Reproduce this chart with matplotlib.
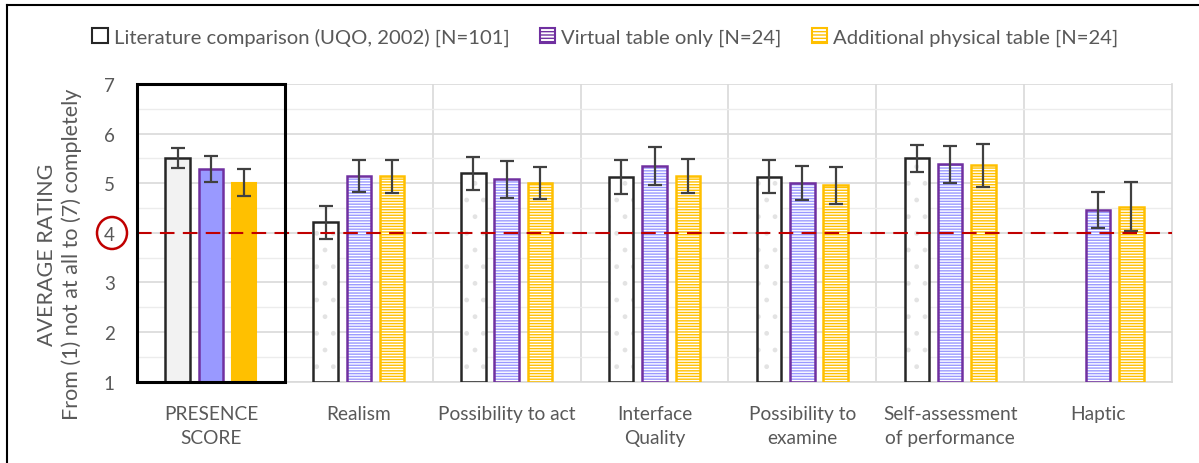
import matplotlib
matplotlib.use("Agg")
import matplotlib.pyplot as plt
import numpy as np
from matplotlib.patches import Rectangle, Patch, Ellipse
from matplotlib.lines import Line2D

categories = ["PRESENCE\nSCORE", "Realism", "Possibility to act", "Interface\nQuality",
              "Possibility to\nexamine", "Self-assessment\nof performance", "Haptic"]
series_names = ["Literature comparison (UQO, 2002) [N=101]",
                "Virtual table only [N=24]",
                "Additional physical table [N=24]"]
lit_mean = [5.51, 4.21, 5.20, 5.13, 5.13, 5.50, np.nan]
lit_err = [0.20, 0.34, 0.33, 0.34, 0.33, 0.28, np.nan]
virt_mean = [5.29, 5.14, 5.08, 5.35, 5.01, 5.38, 4.46]
virt_err = [0.26, 0.32, 0.37, 0.39, 0.34, 0.38, 0.36]
phys_mean = [5.01, 5.14, 5.00, 5.15, 4.96, 5.36, 4.53]
phys_err = [0.27, 0.33, 0.32, 0.34, 0.37, 0.43, 0.50]
yticks = [1, 2, 3, 4, 5, 6, 7]
threshold = 4

plt.rcParams['font.family'] = ['Lato', 'DejaVu Sans']
plt.rcParams['hatch.linewidth'] = 1.0

fig = plt.figure(figsize=(11.99, 4.64), dpi=100)
ax = fig.add_axes([137/1199, 1-382.7/464, (1172-137)/1199, (382.7-85)/464])

x = np.arange(len(categories))
w = 0.165
off = 0.225
gray_txt = '#595959'

# grid
ax.set_ylim(1, 7)
ax.set_xlim(-0.5, len(categories)-0.5)
ax.set_yticks(yticks)
ax.set_yticks(np.arange(1.5, 7, 1.0), minor=True)
ax.yaxis.grid(True, which='major', color='#d9d9d9', lw=1.2, zorder=0)
ax.yaxis.grid(True, which='minor', color='#ececec', lw=1.0, zorder=0)
for b in np.arange(0.5, len(categories)-0.5, 1):
    ax.axvline(b, color='#d9d9d9', lw=1.2, zorder=0)
ax.set_axisbelow(True)
for s in ['left', 'top']:
    ax.spines[s].set_visible(False)
for s in ['right', 'bottom']:
    ax.spines[s].set_color('#d9d9d9')
    ax.spines[s].set_linewidth(1.2)

lit_c = '#262626'
virt_edge = '#7030a0'
virt_fill = '#9999ff'
phys_c = '#ffc000'

lm = np.array(lit_mean); vm = np.array(virt_mean); pm = np.array(phys_mean)
# presence (solid)
ax.bar(x[0]-off, lm[0]-1, w, bottom=1, color='#f2f2f2', edgecolor=lit_c, lw=1.8, zorder=2)
ax.bar(x[0], vm[0]-1, w, bottom=1, color=virt_fill, edgecolor=virt_edge, lw=1.8, zorder=2)
ax.bar(x[0]+off, pm[0]-1, w, bottom=1, color=phys_c, edgecolor=phys_c, lw=1.5, zorder=2)

# others (hatched)
xs = x[1:]
ax.bar(xs-off, lm[1:]-1, w, bottom=1, color='white', edgecolor='#e3e3e3', hatch='.', lw=0, zorder=2)
ax.bar(xs-off, lm[1:]-1, w, bottom=1, fill=False, edgecolor=lit_c, lw=1.8, zorder=3)
ax.bar(xs, vm[1:]-1, w, bottom=1, color='white', edgecolor=virt_fill, hatch='------', lw=0, zorder=2)
ax.bar(xs, vm[1:]-1, w, bottom=1, fill=False, edgecolor=virt_edge, lw=1.8, zorder=3)
ax.bar(xs+off, pm[1:]-1, w, bottom=1, color='white', edgecolor=phys_c, hatch='------', lw=0, zorder=2)
ax.bar(xs+off, pm[1:]-1, w, bottom=1, fill=False, edgecolor=phys_c, lw=1.8, zorder=3)

ekw = dict(fmt='none', ecolor='#404040', elinewidth=1.6, capsize=5, capthick=1.6, zorder=5)
ax.errorbar(x-off, lm, yerr=lit_err, **ekw)
ax.errorbar(x, vm, yerr=virt_err, **ekw)
ax.errorbar(x+off, pm, yerr=phys_err, **ekw)

ax.axhline(threshold, color='#c00000', lw=1.5, dashes=(7, 4), zorder=6)

ax.add_patch(Rectangle((-0.5, 0), 1.0, 1.0, transform=ax.get_xaxis_transform(),
                       fill=False, edgecolor='black', lw=2.2, zorder=7, clip_on=False))

ax.set_xticks(x)
ax.set_xticklabels(categories, fontsize=13.8, color=gray_txt, linespacing=1.45)
ax.tick_params(axis='x', length=0, pad=17)
ax.tick_params(axis='y', which='both', length=0, pad=16, labelsize=13.5, labelcolor=gray_txt)
ax.set_ylabel("AVERAGE RATING\nFrom (1) not at all to (7) completely", fontsize=15.5,
              color=gray_txt, linespacing=1.3)
ax.yaxis.set_label_coords(-0.053, 0.43)

fig.add_artist(Ellipse((112/1199, 1-234/464), 30/1199, 32/464, transform=fig.transFigure,
                       fill=False, edgecolor='#c00000', lw=1.8))

handles = [Patch(facecolor='white', edgecolor=lit_c, lw=1.5),
           Patch(facecolor='white', edgecolor=virt_edge, hatch='-----', lw=1.5),
           Patch(facecolor='white', edgecolor=phys_c, hatch='-----', lw=1.5)]
leg = fig.legend(handles, series_names, loc='center', bbox_to_anchor=(0.505, 1-38/464), ncol=3,
                 frameon=False, fontsize=14.6, handlelength=0.75, handleheight=0.75,
                 handletextpad=0.3, columnspacing=1.5)
for t in leg.get_texts():
    t.set_color(gray_txt)

fig.add_artist(Line2D([7/1199, 7/1199], [0, 1-6/464], transform=fig.transFigure, color='black', lw=1.5))
fig.add_artist(Line2D([7/1199, 1], [1-6/464, 1-6/464], transform=fig.transFigure, color='black', lw=1.5))

fig.savefig("out.png", dpi=100)
